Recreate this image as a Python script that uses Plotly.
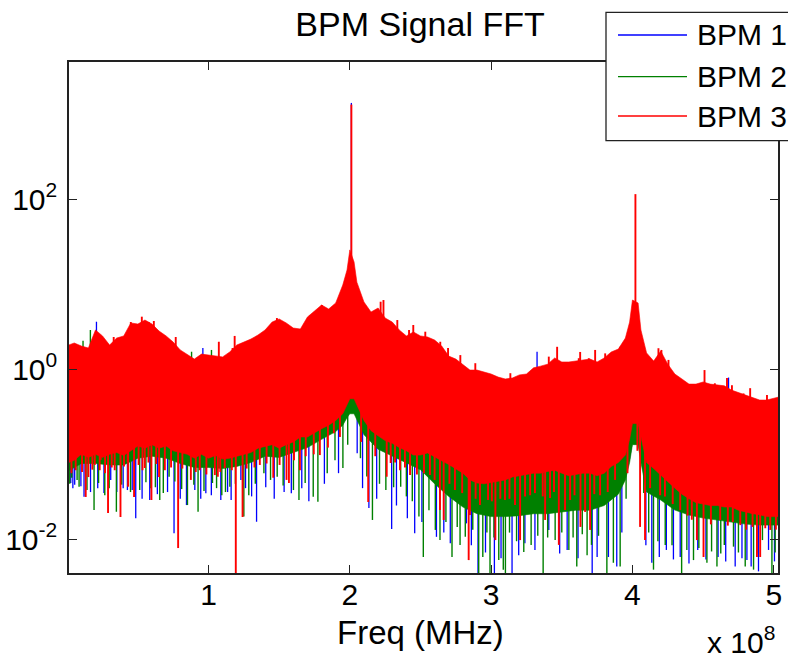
import numpy as np
import plotly.graph_objects as go

# ---------------------------------------------------------------
# Spectrum envelopes (frequency in MHz, magnitude linear)
# ---------------------------------------------------------------
freq_bpm3 = [
    1, 5, 10, 15, 20, 25, 30, 35, 40, 45,
    50, 55, 60, 65, 70, 75, 80, 85, 90, 95,
    100, 105, 110, 115, 120, 125, 130, 135, 140, 145,
    150, 155, 160, 165, 170, 175, 180, 185, 190, 195,
    198, 200, 203, 205, 210, 215, 220, 225, 230, 235,
    240, 245, 250, 255, 260, 265, 270, 275, 280, 285,
    290, 295, 300, 305, 310, 315, 320, 325, 330, 335,
    340, 345, 350, 355, 360, 365, 370, 375, 380, 385,
    390, 395, 398, 400, 404, 406, 410, 415, 420, 425,
    430, 435, 440, 445, 450, 455, 460, 465, 470, 475,
    480, 485, 490, 495, 500, 503,
]
bpm3_hi = [
    1.93, 2.04, 1.88, 1.78, 2.90, 2.47, 1.93, 2.33, 2.47, 3.51,
    3.41, 3.80, 3.41, 2.82, 2.47, 2.09, 1.69, 1.51, 1.32, 1.51,
    1.47, 1.43, 1.40, 1.60, 1.93, 2.09, 2.27, 2.53, 2.90, 3.60,
    3.91, 3.51, 3.06, 2.98, 4.12, 4.85, 5.71, 5.12, 6.03, 9.8,
    14.7, 25.4, 18.3, 10.6, 6.19, 4.72, 5.26, 4.01, 3.60, 2.90,
    2.47, 2.75, 2.47, 2.40, 2.21, 1.88, 1.43, 1.32, 1.15, 0.98,
    0.98, 0.93, 0.88, 0.81, 0.77, 0.79, 0.86, 0.88, 1.04, 1.09,
    1.15, 1.36, 1.22, 1.22, 1.25, 1.29, 1.32, 1.22, 1.36, 1.60,
    1.73, 2.33, 3.60, 6.53, 6.03, 2.90, 1.56, 1.25, 1.64, 1.15,
    0.88, 0.77, 0.67, 0.67, 0.71, 0.67, 0.65, 0.64, 0.57, 0.53,
    0.50, 0.46, 0.435, 0.435, 0.46, 0.47,
]
bpm3_lo = [
    0.080, 0.085, 0.100, 0.092, 0.100, 0.092, 0.100, 0.105, 0.097, 0.110,
    0.125, 0.118, 0.130, 0.118, 0.125, 0.110, 0.105, 0.100, 0.090, 0.100,
    0.090, 0.097, 0.088, 0.090, 0.095, 0.100, 0.105, 0.118, 0.125, 0.130,
    0.118, 0.130, 0.140, 0.160, 0.160, 0.180, 0.200, 0.220, 0.250, 0.30,
    0.38, 0.45, 0.45, 0.38, 0.25, 0.19, 0.165, 0.145, 0.135, 0.120,
    0.110, 0.098, 0.098, 0.104, 0.094, 0.084, 0.076, 0.068, 0.060, 0.050,
    0.046, 0.045, 0.046, 0.048, 0.050, 0.054, 0.056, 0.058, 0.060, 0.060,
    0.063, 0.065, 0.060, 0.056, 0.058, 0.060, 0.060, 0.056, 0.060, 0.072,
    0.080, 0.098, 0.150, 0.230, 0.230, 0.170, 0.080, 0.068, 0.058, 0.048,
    0.040, 0.034, 0.030, 0.027, 0.026, 0.025, 0.025, 0.024, 0.024, 0.022,
    0.021, 0.020, 0.0195, 0.0185, 0.0185, 0.0185,
]

freq_bpm12 = [
    1, 10, 20, 30, 40, 50, 60, 70, 80, 90,
    100, 110, 120, 130, 140, 150, 160, 170, 180, 190,
    195, 198, 200, 203, 205, 210, 220, 230, 240, 250,
    260, 270, 280, 290, 300, 310, 320, 330, 340, 350,
    360, 370, 380, 390, 395, 398, 400, 404, 406, 410,
    420, 430, 440, 450, 460, 470, 480, 490, 500, 503,
]
bpm2_hi = [
    1.40, 1.35, 2.00, 1.40, 1.75, 2.50, 2.50, 1.75, 1.20, 0.96,
    1.06, 1.00, 1.40, 1.65, 2.10, 2.80, 2.20, 2.90, 4.00, 4.30,
    7.0, 10.5, 18.0, 13.0, 7.5, 4.4, 3.7, 2.6, 1.75, 1.75,
    1.55, 1.03, 0.82, 0.70, 0.64, 0.55, 0.62, 0.75, 0.82, 0.88,
    0.90, 0.95, 0.97, 1.24, 1.65, 2.50, 4.60, 4.30, 2.10, 1.12,
    1.18, 0.63, 0.48, 0.51, 0.46, 0.41, 0.36, 0.31, 0.33, 0.34,
]
bpm2_lo = [
    0.064, 0.078, 0.078, 0.075, 0.075, 0.090, 0.095, 0.090, 0.078, 0.070,
    0.070, 0.068, 0.072, 0.080, 0.095, 0.092, 0.105, 0.120, 0.150, 0.185,
    0.22, 0.27, 0.30, 0.30, 0.26, 0.17, 0.115, 0.095, 0.080, 0.066,
    0.045, 0.032, 0.024, 0.020, 0.0185, 0.0185, 0.019, 0.020, 0.020, 0.021,
    0.022, 0.022, 0.025, 0.034, 0.050, 0.080, 0.130, 0.130, 0.080, 0.036,
    0.029, 0.0221, 0.0193, 0.0178, 0.0169, 0.0160, 0.0151, 0.0147, 0.0147, 0.0147,
]
bpm1_hi = [
    1.42, 1.30, 2.05, 1.35, 1.70, 2.55, 2.45, 1.70, 1.22, 0.98,
    1.04, 0.98, 1.35, 1.70, 2.05, 2.75, 2.25, 2.85, 3.90, 4.40,
    7.2, 10.7, 18.5, 13.3, 7.6, 4.5, 3.6, 2.55, 1.70, 1.80,
    1.50, 1.05, 0.80, 0.71, 0.63, 0.56, 0.61, 0.77, 0.80, 0.86,
    0.92, 0.93, 0.99, 1.21, 1.68, 2.55, 4.70, 4.40, 2.05, 1.14,
    1.16, 0.64, 0.49, 0.50, 0.47, 0.40, 0.37, 0.31, 0.32, 0.34,
]
bpm1_lo = [
    0.070, 0.085, 0.085, 0.082, 0.082, 0.098, 0.104, 0.098, 0.085, 0.077,
    0.077, 0.075, 0.079, 0.088, 0.104, 0.100, 0.115, 0.130, 0.165, 0.20,
    0.24, 0.29, 0.32, 0.32, 0.28, 0.185, 0.125, 0.104, 0.088, 0.072,
    0.050, 0.036, 0.027, 0.022, 0.020, 0.020, 0.021, 0.022, 0.022, 0.023,
    0.024, 0.024, 0.027, 0.037, 0.055, 0.088, 0.14, 0.14, 0.088, 0.040,
    0.032, 0.024, 0.021, 0.0195, 0.0185, 0.0175, 0.0165, 0.016, 0.016, 0.016,
]

# ---------------------------------------------------------------
# Individual FFT bins that stand out of the envelopes (MHz, magnitude)
# ---------------------------------------------------------------
bpm3_spikes = [
    (6.0, 0.065), (13.1, 0.0315), (15.0, 0.054), (19.5, 0.075), (23.0, 0.065),
    (23.7, 0.086), (28.9, 0.0204), (33.6, 0.065), (37.7, 0.0183), (42.8, 0.081),
    (43.1, 0.0416), (47.3, 0.0315), (53.3, 0.065), (54.9, 0.069), (59.6, 0.029),
    (65.0, 0.054), (69.1, 0.065), (78.5, 0.0079), (87.5, 0.050), (93.8, 0.065),
    (104.5, 0.057), (106.6, 0.0545), (111.5, 0.069), (112.7, 0.094), (119.3, 0.003),
    (124.1, 0.0183), (136.3, 0.075), (141.1, 0.078), (145.8, 0.053), (155.2, 0.050),
    (156.9, 0.046), (164.7, 0.065), (178.8, 0.098), (188.7, 0.177), (213.0, 0.0275),
    (226.1, 0.0545), (228.9, 0.079), (235.5, 0.065), (242.6, 0.057), (256.7, 0.057),
    (263.8, 0.0221), (266.4, 0.0169), (274.4, 0.038), (284.1, 0.0057), (285.0, 0.0193),
    (292.1, 0.0253), (297.8, 0.029), (303.0, 0.0098), (309.8, 0.029), (316.9, 0.0253),
    (320.5, 0.0098), (327.6, 0.033), (338.2, 0.0169), (341.7, 0.0306), (347.9, 0.0086),
    (352.3, 0.0221), (355.9, 0.029), (363.2, 0.014), (366.5, 0.021), (370.0, 0.0129),
    (377.1, 0.033), (387.7, 0.050), (405.4, 0.014), (408.9, 0.0098), (419.6, 0.033),
    (433.8, 0.0221), (445.6, 0.0098), (450.3, 0.0062), (462.1, 0.0169), (476.3, 0.0147),
    (488.1, 0.0062), (490.4, 0.0062), (497.5, 0.0129),
    (3.0, 0.060), (10.5, 0.062), (17.8, 0.066), (26.8, 0.060), (31.5, 0.070),
    (40.2, 0.072), (50.5, 0.075), (57.5, 0.080), (63.0, 0.077), (73.5, 0.070),
    (81.5, 0.068), (91.0, 0.062), (98.5, 0.058), (108.3, 0.062), (116.5, 0.065),
    (127.0, 0.068), (132.5, 0.070), (150.3, 0.075), (160.5, 0.085), (168.8, 0.095),
    (174.5, 0.100), (184.5, 0.120), (193.0, 0.160), (208.0, 0.140), (218.0, 0.095),
    (232.0, 0.080), (239.0, 0.070), (247.5, 0.058), (252.5, 0.060), (260.0, 0.050),
    (270.5, 0.045), (279.5, 0.035), (289.0, 0.030), (300.5, 0.028), (306.5, 0.030),
    (313.0, 0.030), (324.0, 0.032), (331.0, 0.035), (336.5, 0.032), (344.5, 0.036),
    (359.0, 0.033), (373.0, 0.034), (382.5, 0.036), (396.5, 0.060), (403.5, 0.110),
    (412.5, 0.040), (423.0, 0.032), (428.5, 0.026), (439.0, 0.019), (442.0, 0.017),
    (455.5, 0.015), (467.5, 0.0145), (471.0, 0.016), (480.5, 0.013), (485.0, 0.014),
    (494.0, 0.0135), (501.5, 0.013),
    (32.9, 2.40), (45.0, 3.60), (52.8, 4.16), (57.7, 3.60), (61.3, 3.70),
    (76.8, 2.40), (107.3, 2.11), (117.0, 1.78), (118.5, 2.47), (148.4, 4.01),
    (172.2, 4.35), (180.2, 5.71), (201.1, 1300.0), (221.8, 6.24), (223.8, 6.53),
    (233.6, 3.80), (241.9, 2.90), (244.9, 3.32), (253.4, 2.77), (264.0, 2.11),
    (269.5, 1.78), (278.2, 1.47), (288.8, 1.18), (313.6, 0.90), (340.8, 1.41),
    (346.7, 1.84), (362.0, 1.35), (363.0, 1.60), (369.1, 1.35), (373.6, 1.69),
    (380.7, 1.54), (391.3, 1.84), (402.1, 115.0), (418.4, 1.77), (420.5, 1.69),
    (425.5, 1.29), (451.0, 0.98), (458.3, 0.685), (466.9, 0.79), (470.4, 0.65),
    (478.6, 0.52), (483.3, 0.60), (495.2, 0.50),
]
bpm2_spikes = [
    (3.2, 0.053), (8.4, 0.0416), (19.0, 0.0221), (26.6, 0.033), (34.8, 0.0211),
    (51.3, 0.038), (59.1, 0.040), (65.5, 0.029), (72.1, 0.0545), (85.1, 0.0253),
    (92.6, 0.0211), (102.8, 0.046), (109.4, 0.033), (115.1, 0.0416), (125.0, 0.0185),
    (139.2, 0.060), (148.6, 0.0545), (164.0, 0.029), (174.1, 0.0317), (177.4, 0.0277),
    (195.1, 0.069), (216.0, 0.0169), (236.0, 0.0416), (248.9, 0.0185), (252.0, 0.0062),
    (260.5, 0.0129), (263.8, 0.0098), (272.3, 0.0062), (278.0, 0.0086), (281.7, 0.0107),
    (291.2, 0.003), (294.1, 0.0062), (299.2, 0.003), (305.4, 0.0057), (308.6, 0.0044),
    (310.1, 0.003), (323.1, 0.0071), (328.3, 0.0086), (336.8, 0.003), (345.3, 0.0098),
    (355.0, 0.0075), (360.6, 0.0048), (367.9, 0.0065), (371.0, 0.0086), (381.9, 0.003),
    (386.5, 0.0053), (391.3, 0.0048), (414.9, 0.0044), (423.2, 0.0086), (434.8, 0.003),
    (443.2, 0.0057), (447.0, 0.0079), (452.7, 0.0053), (459.8, 0.0048), (465.0, 0.0086),
    (471.5, 0.0082), (479.8, 0.0048), (485.7, 0.0044), (492.0, 0.0098), (498.7, 0.003),
    (1.8, 0.045), (7.0, 0.050), (14.0, 0.038), (22.2, 0.046), (29.7, 0.040),
    (38.5, 0.044), (44.8, 0.036), (55.7, 0.047), (62.4, 0.041), (68.0, 0.035),
    (76.2, 0.048), (81.0, 0.039), (89.6, 0.044), (96.8, 0.037), (105.7, 0.040),
    (112.0, 0.036), (119.0, 0.045), (128.5, 0.033), (133.1, 0.045), (143.9, 0.050),
    (152.8, 0.043), (160.1, 0.038), (168.4, 0.046), (184.0, 0.060), (189.5, 0.085),
    (198.5, 0.130), (207.5, 0.090), (212.0, 0.055), (221.0, 0.045), (225.5, 0.038),
    (231.0, 0.041), (240.0, 0.032), (244.2, 0.028), (256.0, 0.022), (268.0, 0.016),
    (276.0, 0.014), (287.0, 0.013), (297.0, 0.012), (302.0, 0.0105), (313.0, 0.012),
    (318.0, 0.0095), (333.0, 0.011), (340.0, 0.0105), (350.0, 0.012), (358.0, 0.0105),
    (364.5, 0.0115), (376.0, 0.011), (395.5, 0.030), (408.0, 0.035), (411.5, 0.012),
    (418.0, 0.0095), (428.0, 0.0085), (438.5, 0.0075), (456.0, 0.0072), (462.5, 0.0068),
    (475.0, 0.0070), (488.0, 0.0068), (501.0, 0.0070),
    (11.2, 2.17), (16.4, 2.90), (25.4, 2.11), (88.0, 1.61), (102.1, 1.69),
]
bpm1_spikes = [
    (2.5, 0.046), (5.3, 0.044), (11.9, 0.0317), (21.6, 0.040), (30.8, 0.050),
    (35.1, 0.036), (42.6, 0.038), (48.5, 0.0177), (58.4, 0.029), (75.6, 0.0118),
    (84.4, 0.0253), (90.3, 0.038), (98.1, 0.0348), (108.7, 0.029), (116.0, 0.029),
    (122.9, 0.050), (126.2, 0.040), (134.0, 0.0161), (158.6, 0.0348), (205.2, 0.103),
    (213.5, 0.0233), (229.6, 0.0132), (240.7, 0.0177), (245.9, 0.0118), (261.3, 0.0107),
    (271.1, 0.0090), (282.5, 0.0154), (290.7, 0.003), (302.3, 0.003), (314.8, 0.003),
    (323.9, 0.0090), (340.8, 0.0129), (353.8, 0.0075), (371.5, 0.003), (383.0, 0.0062),
    (388.9, 0.0048), (413.7, 0.0053), (424.0, 0.0075), (433.8, 0.0062), (446.2, 0.0075),
    (460.6, 0.0062), (472.7, 0.0048), (481.0, 0.0057), (489.2, 0.0042), (496.3, 0.0075),
    (4.0, 0.040), (9.7, 0.042), (16.5, 0.036), (26.0, 0.035), (39.6, 0.040),
    (46.0, 0.038), (53.0, 0.030), (63.8, 0.034), (71.0, 0.036), (80.0, 0.030),
    (94.5, 0.030), (102.0, 0.033), (113.5, 0.036), (130.5, 0.032), (140.5, 0.041),
    (146.5, 0.030), (153.5, 0.036), (166.0, 0.040), (171.0, 0.028), (182.0, 0.045),
    (192.0, 0.060), (209.0, 0.040), (219.0, 0.030), (233.0, 0.025), (251.0, 0.016),
    (266.5, 0.012), (286.0, 0.0085), (296.0, 0.0070), (307.0, 0.0060), (319.5, 0.0065),
    (331.0, 0.0075), (348.5, 0.0068), (361.5, 0.0060), (375.0, 0.0062), (392.5, 0.012),
    (409.5, 0.0085), (419.0, 0.0062), (429.0, 0.0058), (440.0, 0.0052), (452.0, 0.0058),
    (466.0, 0.0055), (477.5, 0.0060), (484.0, 0.0048), (500.5, 0.0055),
    (20.7, 3.63), (48.0, 3.32), (96.0, 1.78), (201.1, 1360.0), (332.5, 1.61),
    (468.0, 0.80),
]

series = [
    ("BPM 1", "#0000ff", freq_bpm12, bpm1_hi, bpm1_lo, bpm1_spikes, 1.3),
    ("BPM 2", "#008000", freq_bpm12, bpm2_hi, bpm2_lo, bpm2_spikes, 1.4),
    ("BPM 3", "#ff0000", freq_bpm3, bpm3_hi, bpm3_lo, bpm3_spikes, 1.9),
]

MHZ = 1e6
fig = go.Figure()

for name, color, freq, hi, lo, spikes, width in series:
    freq_hz = [f * MHZ for f in freq]
    # dense band of bins between the upper and lower envelope
    fig.add_trace(go.Scatter(
        x=freq_hz + freq_hz[::-1],
        y=list(hi) + list(lo)[::-1],
        mode="lines", fill="toself", fillcolor=color,
        line=dict(color=color, width=0.6),
        hoverinfo="skip", showlegend=False, name=name,
    ))
    # single bins drawn as vertical strokes from the middle of the band
    mid_log = (np.log10(hi) + np.log10(lo)) / 2.0
    xs, ys = [], []
    for f, v in spikes:
        base = 10 ** np.interp(f, freq, mid_log)
        xs += [f * MHZ, f * MHZ, None]
        ys += [base, v, None]
    fig.add_trace(go.Scatter(
        x=xs, y=ys, mode="lines",
        line=dict(color=color, width=width),
        hoverinfo="skip", showlegend=False, name=name,
    ))

AX = "#222222"
FONT = "Liberation Sans, Arial, Helvetica, sans-serif"

fig.update_layout(
    width=788, height=661,
    margin=dict(l=69, r=10, t=62, b=88),
    plot_bgcolor="white", paper_bgcolor="white",
    font=dict(family=FONT, color="black", size=30),
    showlegend=False,
    title=dict(text="BPM Signal FFT", x=420 / 788, xanchor="center",
               y=1 - 24 / 661, yanchor="middle",
               font=dict(size=34, family=FONT, color="black")),
)
fig.update_xaxes(
    range=[1.27e6, 5.03e8], automargin=False,
    tickvals=[1e8, 2e8, 3e8, 4e8, 5e8], ticktext=["1", "2", "3", "4", "5"],
    ticks="inside", ticklen=8, tickwidth=1.3, tickcolor=AX,
    showline=True, linecolor=AX, linewidth=1.5, mirror="ticks",
    showgrid=False, zeroline=False, tickfont=dict(size=30),
    ticklabelstandoff=-6,
)
fig.update_yaxes(
    type="log", range=[-2.396, 3.615], automargin=False,
    tickvals=[1e-2, 1, 1e2],
    ticktext=["10<sup>-2</sup>", "10<sup>0</sup>", "10<sup>2</sup>"],
    ticks="inside", ticklen=8, tickwidth=1.3, tickcolor=AX,
    showline=True, linecolor=AX, linewidth=1.5, mirror="ticks",
    showgrid=False, zeroline=False, tickfont=dict(size=30),
    ticklabelstandoff=4,
)

def px_x(px):
    return (px - 69) / 709.0

def px_y(py):
    return 1 - (py - 62) / 511.0

annotations = [
    dict(text="Freq (MHz)", x=px_x(420), y=px_y(632), xref="paper", yref="paper",
         xanchor="center", yanchor="middle", showarrow=False, font=dict(size=33)),
    dict(text="x 10<sup>8</sup>", x=px_x(777), y=px_y(640), xref="paper", yref="paper",
         xanchor="right", yanchor="middle", showarrow=False, font=dict(size=30)),
]
shapes = [
    dict(type="rect", xref="paper", yref="paper",
         x0=px_x(606), x1=px_x(800), y0=px_y(140.7), y1=px_y(12.3),
         fillcolor="white", line=dict(color=AX, width=1.3), layer="above"),
]
legend_rows = [35, 76.7, 116]
for (name, color, *_), ly in zip(series, legend_rows):
    shapes.append(dict(type="line", xref="paper", yref="paper",
                       x0=px_x(618), x1=px_x(687), y0=px_y(ly), y1=px_y(ly),
                       line=dict(color=color, width=1.3), layer="above"))
    annotations.append(dict(text=name, x=px_x(695), y=px_y(ly), xref="paper", yref="paper",
                            xanchor="left", yanchor="middle", showarrow=False,
                            font=dict(size=30)))

fig.update_layout(shapes=shapes, annotations=annotations)
fig.write_html("out.html")
